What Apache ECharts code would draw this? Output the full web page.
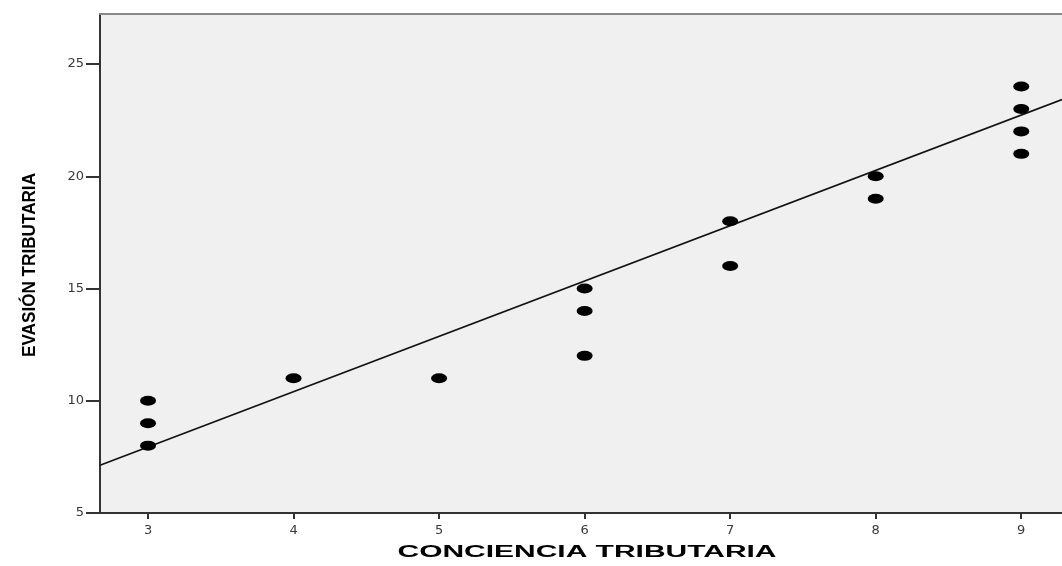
<!DOCTYPE html>
<html>
<head>
<meta charset="utf-8">
<script src="https://cdn.jsdelivr.net/npm/echarts@6/dist/echarts.min.js"></script>
<style>html,body{margin:0;padding:0;background:#fff}#c{width:1062px;height:566px}</style>
</head>
<body>
<div id="c"></div>
<script>
const conciencia = [3, 3, 3, 4, 5, 6, 6, 6, 7, 7, 8, 8, 9, 9, 9, 9];
const evasion    = [8, 9, 10, 11, 11, 12, 14, 15, 16, 18, 19, 20, 21, 22, 23, 24];
const fitLineX = [2.67, 9.28];
const fitLineY = [7.13, 23.42];
const xTicks = [3, 4, 5, 6, 7, 8, 9];
const yTicks = [5, 10, 15, 20, 25];
const xTitle = 'CONCIENCIA TRIBUTARIA';
const yTitle = 'EVASIÓN TRIBUTARIA';

const points = conciencia.map((x, i) => [x, evasion[i]]);
const fitLine = fitLineX.map((x, i) => [x, fitLineY[i]]);

function measure(text, font) {
  const cv = document.createElement('canvas').getContext('2d');
  cv.font = font;
  return cv.measureText(text).width;
}
const xFont = 'bold 16px "Liberation Sans", Arial, sans-serif';
const yFont = 'bold 19px "Liberation Sans Narrow", "Liberation Sans", Arial, sans-serif';
const xScale = 379 / measure(xTitle, xFont);
const yScale = 184 / measure(yTitle, yFont);

const chart = echarts.init(document.getElementById('c'), null, {renderer: 'canvas'});
const labelStyle = {color: '#3a3a3a', fontFamily: 'DejaVu Sans, sans-serif', fontSize: 13};
chart.setOption({
  animation: false,
  backgroundColor: '#ffffff',
  grid: {left: 100, top: 14, right: 0, bottom: 53, show: true, backgroundColor: '#f0f0f0', borderWidth: 0},
  xAxis: [{
    type: 'value', min: 2.67, max: 9.28,
    axisLine: {show: true, onZero: false, lineStyle: {color: '#333', width: 2}},
    axisTick: {show: true, length: 6, customValues: xTicks, lineStyle: {color: '#333', width: 2}},
    axisLabel: Object.assign({margin: 11, customValues: xTicks}, labelStyle),
    splitLine: {show: false}
  }, {
    type: 'value', min: 2.67, max: 9.28, position: 'top',
    axisLine: {show: true, onZero: false, lineStyle: {color: '#8a8a8a', width: 2}},
    axisTick: {show: false}, axisLabel: {show: false}, splitLine: {show: false}
  }],
  yAxis: {
    type: 'value', min: 5, max: 27.23,
    axisLine: {show: true, onZero: false, lineStyle: {color: '#333', width: 2}},
    axisTick: {show: true, length: 14, customValues: yTicks, lineStyle: {color: '#333', width: 2}},
    axisLabel: Object.assign({margin: 16, customValues: yTicks, padding: [3, 0, 0, 0]}, labelStyle),
    splitLine: {show: false}
  },
  graphic: [
    {
      type: 'text', x: 587, y: 553, scaleX: xScale,
      style: {text: xTitle, font: xFont, fill: '#000', align: 'center', verticalAlign: 'middle'}
    },
    {
      type: 'text', x: 30, y: 265, rotation: Math.PI / 2, scaleX: yScale,
      style: {text: yTitle, font: yFont, fill: '#000', align: 'center', verticalAlign: 'middle'}
    }
  ],
  series: [
    {
      type: 'line', data: fitLine, symbol: 'none', silent: true,
      lineStyle: {color: '#111', width: 1.6}, z: 2
    },
    {
      type: 'scatter', data: points, symbol: 'circle', symbolSize: [16, 10],
      itemStyle: {color: '#000', opacity: 1}, z: 3
    }
  ]
});
</script>
</body>
</html>
